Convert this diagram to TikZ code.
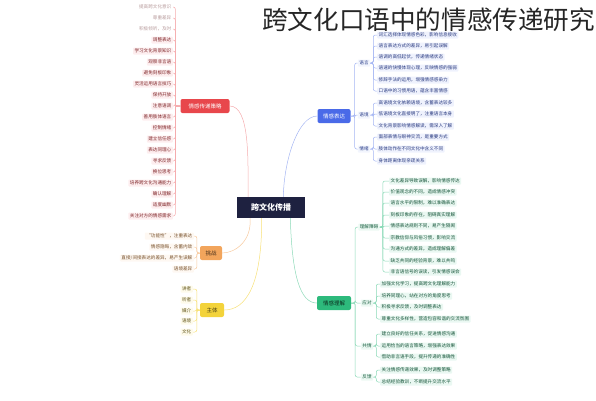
\documentclass[tikz,border=0pt]{standalone}
\usepackage{fontspec}
\setmainfont{Noto Sans CJK SC}
\usetikzlibrary{positioning,calc}
\definecolor{navy}{HTML}{1E2140}
\definecolor{redc}{HTML}{E8474C}
\definecolor{bluec}{HTML}{4A6AE8}
\definecolor{orangec}{HTML}{F2A55C}
\definecolor{yellowc}{HTML}{F3D33B}
\definecolor{greenc}{HTML}{2DBA7C}
\newcommand{\leaffont}{\fontsize{4.6}{5}\selectfont}
\newcommand{\branchfont}{\fontsize{5.5}{6}\selectfont}

\begin{document}
\begin{tikzpicture}[x=1pt, y=-1pt,
  leaf/.style={rounded corners=0.8pt, inner xsep=1.5pt, inner ysep=0pt, minimum height=7pt, font=\leaffont},
  rleaf/.style={leaf, fill=redc!9, text=redc!55!black, anchor=east},
  rfade/.style={leaf, text=redc!25!gray!70, anchor=east},
  oleaf/.style={leaf, fill=orangec!8, text=orangec!50!black, anchor=east},
  yleaf/.style={leaf, fill=yellowc!10, text=yellowc!40!black, anchor=east},
  bleaf/.style={leaf, fill=bluec!9, text=bluec!55!black, anchor=west},
  gleaf/.style={leaf, fill=greenc!10, text=greenc!45!black, anchor=west},
  bsub/.style={leaf, fill=bluec!7, text=bluec!60!black},
  gsub/.style={leaf, fill=greenc!9, text=greenc!50!black},
  branch/.style={rounded corners=2pt, minimum height=14pt, inner xsep=3pt, inner ysep=0pt, font=\branchfont},
  rline/.style={draw=redc!45, line width=0.5pt, rounded corners=2pt},
  oline/.style={draw=orangec!60, line width=0.5pt, rounded corners=2pt},
  yline/.style={draw=yellowc!70, line width=0.5pt, rounded corners=2pt},
  bline/.style={draw=bluec!50, line width=0.5pt, rounded corners=2pt},
  gline/.style={draw=greenc!55, line width=0.5pt, rounded corners=2pt},
]
\useasboundingbox (0,0) rectangle (596,400);
% -- title
\node[anchor=west, font=\fontsize{25.6}{27}\selectfont, text=black!85, inner sep=0pt] (title) at (262,20) {跨文化口语中的情感传递研究};
% -- centre and branches
\node[fill=navy, text=white, minimum width=68pt, minimum height=21pt, inner sep=0pt,
      font=\fontsize{8}{9}\selectfont\bfseries] (core) at (271,207.5) {跨文化传播};
\node[branch, fill=redc, text=white, minimum width=49pt] (red) at (205,106) {情感传递策略};
\node[branch, fill=bluec, text=white, minimum width=33pt] (blue) at (334,116) {情感表达};
\node[branch, fill=orangec, text=orangec!30!black, minimum width=22pt] (orange) at (211,253) {挑战};
\node[branch, fill=yellowc, text=yellowc!30!black, minimum width=24pt] (yellow) at (212,310) {主体};
\node[branch, fill=greenc, text=greenc!25!black, minimum width=34pt] (green) at (334,303) {情感理解};
% -- red leaves
\node[rfade] (r1) at (173,7) {提高跨文化意识};
\node[rfade] (r2) at (173,18) {尊重差异};
\node[rfade] (r3) at (173,29) {积极倾听，及时};
\node[rleaf] (r4) at (173,40) {调整表达};
\node[rleaf] (r5) at (173,51) {学习文化背景知识};
\node[rleaf] (r6) at (173,62) {观察非言语};
\node[rleaf] (r7) at (173,73) {避免刻板印象};
\node[rleaf] (r8) at (173,84) {灵活运用语言技巧};
\node[rleaf] (r9) at (173,95) {保持开放};
\node[rleaf] (r10) at (173,106) {注意语调};
\node[rleaf] (r11) at (173,117) {善用肢体语言};
\node[rleaf] (r12) at (173,128) {控制情绪};
\node[rleaf] (r13) at (173,139) {建立信任感};
\node[rleaf] (r14) at (173,150) {表达同理心};
\node[rleaf] (r15) at (173,161) {寻求反馈};
\node[rleaf] (r16) at (173,172) {换位思考};
\node[rleaf] (r17) at (173,183) {培养跨文化沟通能力};
\node[rleaf] (r18) at (173,194) {确认理解};
\node[rleaf] (r19) at (173,205) {适度幽默};
\node[rleaf] (r20) at (173,216) {关注对方的情感需求};
% -- orange leaves
\node[oleaf] (o1) at (194,236) {“功能性”，注重表达};
\node[oleaf] (o2) at (194,247) {情感隐晦，含蓄内敛};
\node[oleaf] (o3) at (194,258) {直接/间接表达的差异，易产生误解};
\node[oleaf] (o4) at (194,269) {语境差异};
% -- yellow leaves
\node[yleaf] (y1) at (193,289) {讲者};
\node[yleaf] (y2) at (193,300) {听者};
\node[yleaf] (y3) at (193,311) {媒介};
\node[yleaf] (y4) at (193,321) {语境};
\node[yleaf] (y5) at (193,332) {文化};
% -- blue sub-branches and leaves
\node[bsub] (bs1) at (364,63) {语言};
\node[bsub] (bs2) at (364,115) {语境};
\node[bsub] (bs3) at (364,149) {情绪};
\node[bleaf] (b1) at (377,35) {词汇选择体现情感色彩，影响信息接收};
\node[bleaf] (b2) at (377,46) {语言表达方式的差异，易引起误解};
\node[bleaf] (b3) at (377,57) {语调的高低起伏，传递情绪状态};
\node[bleaf] (b4) at (377,68) {语速的快慢体现心理，反映情感的强弱};
\node[bleaf] (b5) at (377,80) {修辞手法的运用，增强情感感染力};
\node[bleaf] (b6) at (377,91) {口语中的习惯用语，蕴含丰富情感};
\node[bleaf] (b7) at (377,103) {高语境文化依赖语境，含蓄表达较多};
\node[bleaf] (b8) at (377,114) {低语境文化直接明了，注重语言本身};
\node[bleaf] (b9) at (377,126) {文化背景影响情感解读，需深入了解};
\node[bleaf] (b10) at (377,137) {面部表情与眼神交流，是重要方式};
\node[bleaf] (b11) at (377,149) {肢体动作在不同文化中含义不同};
\node[bleaf] (b12) at (377,161) {身体距离体现亲疏关系};
% -- green sub-branches and leaves
\node[gsub] (gs1) at (369,227) {理解障碍};
\node[gsub] (gs2) at (367,303) {应对};
\node[gsub] (gs3) at (367,346) {共情};
\node[gsub] (gs4) at (367,377) {反馈};
\node[gleaf] (g1) at (389,181) {文化差异导致误解，影响情感传达};
\node[gleaf] (g2) at (389,192) {价值观念的不同，造成情感冲突};
\node[gleaf] (g3) at (389,203) {语言水平的限制，难以准确表达};
\node[gleaf] (g4) at (389,215) {刻板印象的存在，阻碍真实理解};
\node[gleaf] (g5) at (389,226) {情感表达规则不同，易产生隔阂};
\node[gleaf] (g6) at (389,238) {宗教信仰与风俗习惯，影响交流};
\node[gleaf] (g7) at (389,249) {沟通方式的差异，造成理解偏差};
\node[gleaf] (g8) at (389,261) {缺乏共同的经验背景，难以共鸣};
\node[gleaf] (g9) at (389,272) {非言语信号的误读，引发情感误会};
\node[gleaf] (g10) at (380,284) {加强文化学习，提高跨文化理解能力};
\node[gleaf] (g11) at (380,296) {培养同理心，站在对方的角度思考};
\node[gleaf] (g12) at (380,307) {积极寻求反馈，及时调整表达};
\node[gleaf] (g13) at (380,319) {尊重文化多样性，营造包容和谐的交流氛围};
\node[gleaf] (g14) at (380,334) {建立良好的信任关系，促进情感沟通};
\node[gleaf] (g15) at (380,346) {运用恰当的语言策略，增强表达效果};
\node[gleaf] (g16) at (380,357) {借助非言语手段，提升传递的准确性};
\node[gleaf] (g17) at (380,370) {关注情感传递效果，及时调整策略};
\node[gleaf] (g18) at (380,382) {总结经验教训，不断提升交流水平};
% -- curves from the centre
\draw[rline] (red.east) .. controls (250,106) and (248,160) .. (core.155);
\draw[bline] (blue.west) .. controls (298,116) and (284,160) .. (core.41);
\draw[oline] (core.207) .. controls (252,240) and (236,253) .. (orange.east);
\draw[yline] (core.229) .. controls (262,285) and (246,310) .. (yellow.east);
\draw[gline] (core.331) .. controls (292,275) and (300,303) .. (green.west);
% -- brackets
\foreach \i in {1,...,20} \draw[rline] (red.west) -- ++(-5,0) |- (r\i.east);
\foreach \i in {1,...,4} \draw[oline] (orange.west) -- ++(-3,0) |- (o\i.east);
\foreach \i in {1,...,5} \draw[yline] (yellow.west) -- ++(-3,0) |- (y\i.east);
\foreach \i in {1,2,3} \draw[bline] (blue.east) -- ++(4,0) |- (bs\i.west);
\foreach \i in {1,...,6} \draw[bline] (bs1.east) -- ++(3,0) |- (b\i.west);
\foreach \i in {7,8,9} \draw[bline] (bs2.east) -- ++(3,0) |- (b\i.west);
\foreach \i in {10,11,12} \draw[bline] (bs3.east) -- ++(3,0) |- (b\i.west);
\foreach \i in {1,...,4} \draw[gline] (green.east) -- ++(4,0) |- (gs\i.west);
\foreach \i in {1,...,9} \draw[gline] (gs1.east) -- ++(3,0) |- (g\i.west);
\foreach \i in {10,...,13} \draw[gline] (gs2.east) -- ++(3,0) |- (g\i.west);
\foreach \i in {14,15,16} \draw[gline] (gs3.east) -- ++(3,0) |- (g\i.west);
\foreach \i in {17,18} \draw[gline] (gs4.east) -- ++(3,0) |- (g\i.west);
\end{tikzpicture}
\end{document}
